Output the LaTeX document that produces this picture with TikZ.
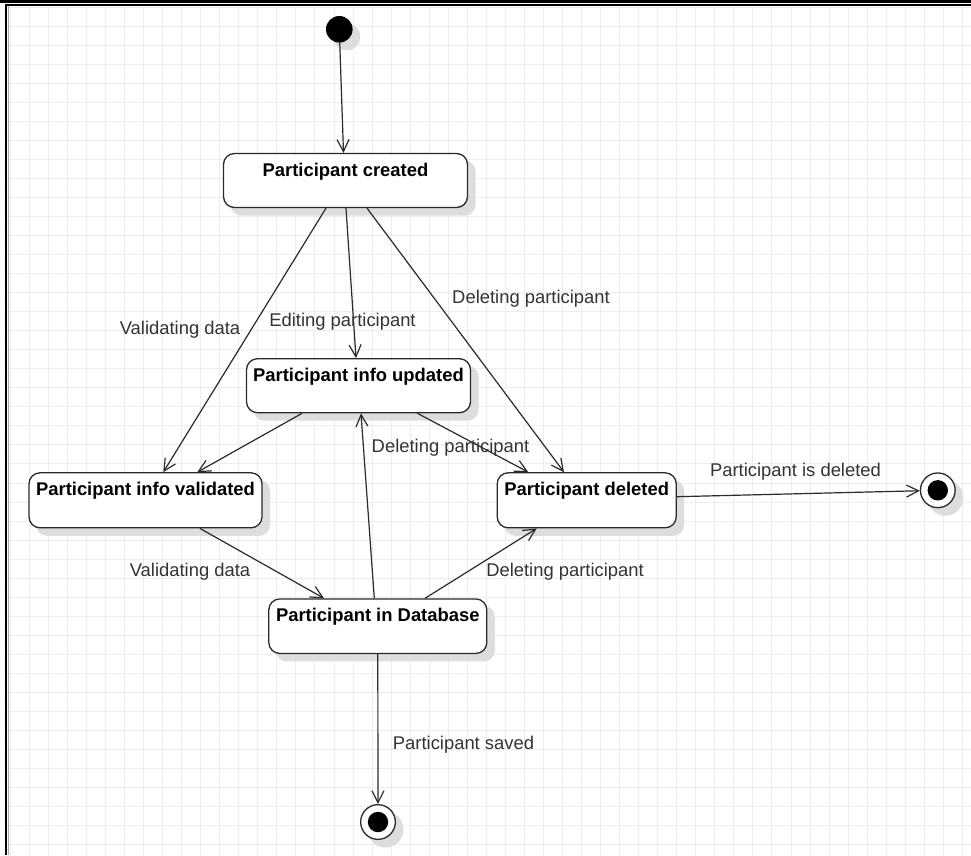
\documentclass[tikz,border=0pt]{standalone}
\usepackage{fontspec}
\setmainfont{Liberation Sans}
\usetikzlibrary{arrows.meta}
\definecolor{gridc}{HTML}{EDEDED}
\definecolor{shadowc}{HTML}{DDDDDD}
\definecolor{ink}{HTML}{2A2A2A}
\definecolor{lbl}{HTML}{333333}
\begin{document}
\begin{tikzpicture}[x=1pt,y=-1pt,
  stbox/.style={draw=ink, line width=1.3pt, rounded corners=11pt, fill=white, inner sep=0pt},
  stshadow/.style={fill=shadowc, draw=none, rounded corners=11pt, inner sep=0pt},
  sttitle/.style={anchor=base, font=\fontsize{18.4}{22}\selectfont\bfseries, text=black, inner sep=0pt},
  lab/.style={anchor=base, font=\fontsize{18.4}{22}\selectfont, text=lbl, inner sep=0pt},
  flow/.style={draw=ink, line width=1.2pt, -{Straight Barb[length=12pt,width=12pt]}},
  finalst/.style={circle, draw=ink, line width=1.3pt, fill=white, minimum size=34.7pt, inner sep=0pt},
  roundshadow/.style={circle, fill=shadowc, draw=none, inner sep=0pt},
]
\useasboundingbox (0,0) rectangle (971,855);
\fill[white] (0,0) rectangle (971,855);

% background grid
\foreach \i in {0,...,50} {
  \draw[gridc, line width=0.9pt] ({10.3+19.04*\i},5) -- ({10.3+19.04*\i},855);
}
\foreach \j in {0,...,44} {
  \draw[gridc, line width=0.9pt] (7,{6.96+19.04*\j}) -- (971,{6.96+19.04*\j});
}

% frame
\draw[black, line width=2.7pt] (0,1.3) -- (971,1.3);
\draw[black, line width=2pt] (5,4.9) -- (971,4.9);
\draw[black, line width=2.3pt] (6.2,4) -- (6.2,855);
\draw[black!35, line width=1.2pt] (8.1,6) -- (8.1,855);

% shadows, offset down and to the right of each state
\node[roundshadow, minimum size=27pt] (initS) at (346.8,36.8) {};
\node[stshadow, minimum width=245pt, minimum height=55pt] (createdS) at (353,188) {};
\node[stshadow, minimum width=225pt, minimum height=55pt] (updatedS) at (366,393.2) {};
\node[stshadow, minimum width=234pt, minimum height=56pt] (validatedS) at (153,507.8) {};
\node[stshadow, minimum width=180pt, minimum height=56pt] (deletedS) at (594.2,507.8) {};
\node[stshadow, minimum width=219pt, minimum height=55.5pt] (databaseS) at (385.3,633.7) {};
\node[roundshadow, minimum size=36pt] (endrS) at (945.3,497.8) {};
\node[roundshadow, minimum size=36pt] (endbS) at (385.5,829.5) {};

% states
\node[circle, fill=black, minimum size=26.6pt, inner sep=0pt] (init) at (339.3,29.3) {};

\node[stbox, minimum width=244pt, minimum height=54pt] (created) at (345.5,180.5) {};
\node[sttitle] (createdT) at (345.5,176) {Participant created};

\node[stbox, minimum width=224pt, minimum height=54pt] (updated) at (358.5,385.7) {};
\node[sttitle] (updatedT) at (358.5,381.5) {Participant info updated};

\node[stbox, minimum width=233pt, minimum height=55pt] (validated) at (145.5,500.3) {};
\node[sttitle] (validatedT) at (145.5,495.2) {Participant info validated};

\node[stbox, minimum width=179pt, minimum height=55pt] (deleted) at (586.7,500.3) {};
\node[sttitle] (deletedT) at (586.7,495.2) {Participant deleted};

\node[stbox, minimum width=218pt, minimum height=54.5pt] (database) at (377.8,626.2) {};
\node[sttitle] (databaseT) at (377.8,621.7) {Participant in Database};

\node[finalst] (endr) at (937.8,490.3) {};
\fill[black] (endr.center) circle (10.2);
\node[finalst] (endb) at (378,822) {};
\fill[black] (endb.center) circle (10.2);

% transitions
\draw[flow] (init) -- ([xshift=-2pt]created.north);
\draw[flow] ([xshift=-19.5pt]created.south) -- ([xshift=17.8pt]validated.north);
\draw[flow] ([xshift=0.5pt]created.south) -- ([xshift=-2.5pt]updated.north);
\draw[flow] ([xshift=21.5pt]created.south) -- ([xshift=-22.7pt]deleted.north);
\draw[flow] ([xshift=-56.5pt]updated.south) -- ([xshift=51.8pt]validated.north);
\draw[flow] ([xshift=59pt]updated.south) -- ([xshift=-58.4pt]deleted.north);
\draw[flow] ([xshift=54.5pt]validated.south) -- ([xshift=-53.8pt]database.north);
\draw[flow] ([xshift=-3.5pt]database.north) -- ([xshift=2.5pt]updated.south);
\draw[flow] ([xshift=47.2pt]database.north) -- ([xshift=-50pt]deleted.south);
\draw[flow] ([yshift=3.6pt]deleted.east) -- (endr);
\draw[flow] (database.south) -- (endb);

% transition labels
\node[lab] (l1) at (180,334) {Validating data};
\node[lab] (l2) at (342.5,326) {Editing participant};
\node[lab] (l3) at (531,303) {Deleting participant};
\node[lab] (l4) at (450.5,452.5) {Deleting participant};
\node[lab] (l5) at (190,576) {Validating data};
\node[lab] (l6) at (565,576) {Deleting participant};
\node[lab] (l7) at (795.5,476) {Participant is deleted};
\node[lab] (l8) at (463.5,749.3) {Participant saved};
\end{tikzpicture}
\end{document}
